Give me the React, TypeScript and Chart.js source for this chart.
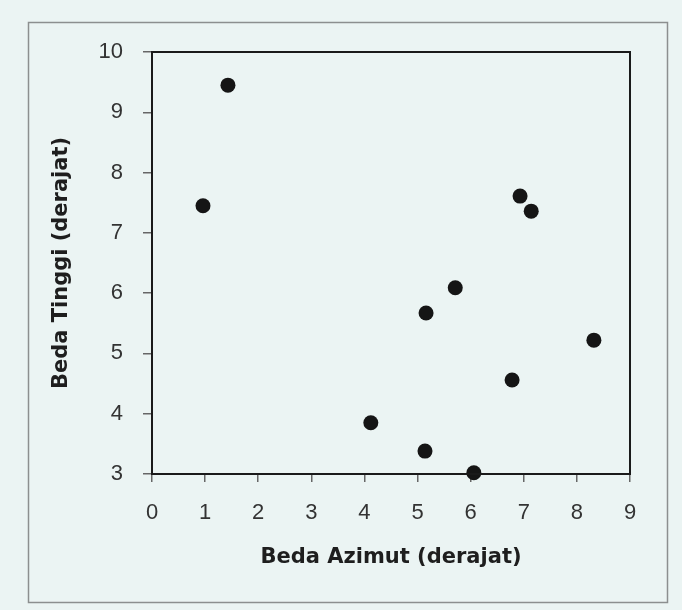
import React, { useEffect, useRef } from "react";
import { Chart, registerables } from "chart.js";

Chart.register(...registerables);

const azimuthDiff: number[] = [0.96, 1.43, 4.12, 5.16, 5.14, 5.71, 6.06, 6.78, 6.93, 7.14, 8.32];
const heightDiff: number[] = [7.45, 9.45, 3.85, 5.67, 3.38, 6.09, 3.02, 4.56, 7.61, 7.36, 5.22];
const xTicks: number[] = [0, 1, 2, 3, 4, 5, 6, 7, 8, 9];
const yTicks: number[] = [3, 4, 5, 6, 7, 8, 9, 10];
const xTitle = "Beda Azimut (derajat)";
const yTitle = "Beda Tinggi (derajat)";

const BG = "#ebf4f3";

const framePlugin = {
  id: "frames",
  beforeDraw(chart: any) {
    const ctx = chart.ctx;
    ctx.save();
    ctx.fillStyle = BG;
    ctx.fillRect(0, 0, chart.width, chart.height);
    ctx.strokeStyle = "#8c8f8f";
    ctx.lineWidth = 1.5;
    ctx.strokeRect(28.5, 22.5, 639, 580);
    ctx.restore();
  },
  afterDatasetsDraw(chart: any) {
    const { ctx, chartArea } = chart;
    ctx.save();
    ctx.strokeStyle = "#1a1a1a";
    ctx.lineWidth = 2;
    ctx.strokeRect(chartArea.left, chartArea.top, chartArea.right - chartArea.left, chartArea.bottom - chartArea.top);
    ctx.restore();
  },
};

export default function App() {
  const ref = useRef<HTMLCanvasElement | null>(null);

  useEffect(() => {
    if (!ref.current) return;
    const points = azimuthDiff.map((x, i) => ({ x, y: heightDiff[i] }));
    const chart = new Chart(ref.current, {
      type: "scatter",
      data: {
        datasets: [
          {
            data: points,
            backgroundColor: "#151515",
            borderColor: "#151515",
            pointRadius: 7.5,
            pointHoverRadius: 7.5,
            borderWidth: 0,
            clip: false as any,
          },
        ],
      },
      options: {
        animation: false,
        responsive: true,
        maintainAspectRatio: false,
        layout: { padding: { left: 0, top: 52, right: 52, bottom: 0 } },
        plugins: { legend: { display: false }, tooltip: { enabled: false } },
        scales: {
          x: {
            type: "linear",
            min: xTicks[0],
            max: xTicks[xTicks.length - 1],
            afterBuildTicks: (s: any) => {
              s.ticks = xTicks.map((v) => ({ value: v }));
            },
            afterFit: (s: any) => {
              s.height = 136;
            },
            border: { display: false },
            grid: {
              drawOnChartArea: false,
              drawTicks: true,
              tickLength: 8,
              color: "#666",
              lineWidth: 1.5,
            },
            ticks: {
              padding: 18,
              color: "#333",
              font: { family: "'Liberation Sans', Arial, sans-serif", size: 22 },
            },
            title: {
              display: true,
              text: xTitle,
              color: "#1e1e1e",
              font: { family: "'DejaVu Sans', sans-serif", size: 21, weight: "bold" },
              padding: { top: 0, bottom: 40 },
            },
          },
          y: {
            type: "linear",
            min: yTicks[0],
            max: yTicks[yTicks.length - 1],
            afterBuildTicks: (s: any) => {
              s.ticks = yTicks.map((v) => ({ value: v }));
            },
            afterFit: (s: any) => {
              s.width = 152;
            },
            border: { display: false },
            grid: {
              drawOnChartArea: false,
              drawTicks: true,
              tickLength: 9,
              color: "#666",
              lineWidth: 1.5,
            },
            ticks: {
              padding: 20,
              color: "#333",
              font: { family: "'Liberation Sans', Arial, sans-serif", size: 22 },
            },
            title: {
              display: true,
              text: yTitle,
              color: "#1e1e1e",
              font: { family: "'DejaVu Sans', sans-serif", size: 21, weight: "bold" },
              padding: { top: 49, bottom: 0 },
            },
          },
        },
      },
      plugins: [framePlugin],
    });
    return () => chart.destroy();
  }, []);

  return (
    <div style={{ position: "fixed", left: 0, top: 0, width: 682, height: 610, background: BG }}>
      <canvas ref={ref} />
    </div>
  );
}
